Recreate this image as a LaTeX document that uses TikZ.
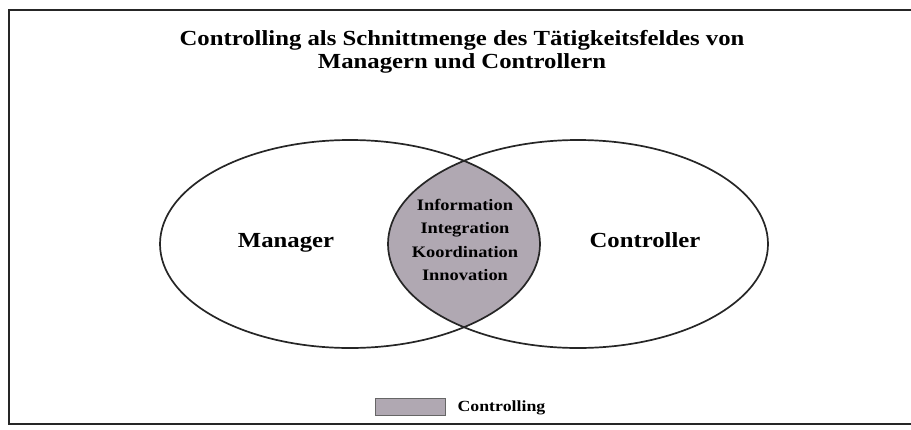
\documentclass[tikz,border=0pt]{standalone}
\usepackage{fontspec}
\setmainfont{Liberation Serif}
\newfontfamily\wideserif[FakeStretch=1.15]{Liberation Serif}
\begin{document}
\begin{tikzpicture}[x=1pt,y=-1pt,
  outline/.style={draw=black!85,line width=1.7pt},
  lensfill/.style={fill={rgb,255:red,176;green,168;blue,178}},
  heading/.style={font=\wideserif\bfseries\fontsize{21.5}{23}\selectfont,align=center},
  setlabel/.style={font=\wideserif\bfseries\fontsize{21.5}{24}\selectfont},
  lenstext/.style={font=\wideserif\bfseries\fontsize{16}{23.5}\selectfont,align=center},
  legendtext/.style={font=\wideserif\bfseries\fontsize{15.5}{17}\selectfont,anchor=west}]
\useasboundingbox (0,0) rectangle (911,429);
% frame (right side runs off the page)
\draw[line width=2pt,black!85] (911,10) -- (9,10) -- (9,424) -- (911,424);
% title
\node[heading] (title) at (462,52) {Controlling als Schnittmenge des Tätigkeitsfeldes von\\Managern und Controllern};
% shared area of the two sets
\begin{scope}
  \clip (350,244) ellipse [x radius=190,y radius=104];
  \fill[lensfill] (578,244) ellipse [x radius=190,y radius=104];
\end{scope}
\draw[outline] (350,244) ellipse [x radius=190,y radius=104];
\draw[outline] (578,244) ellipse [x radius=190,y radius=104];
% labels
\node[setlabel] (manager) at (286,243) {Manager};
\node[setlabel] (controller) at (645,240) {Controller};
\node[lenstext] (tasks) at (465,240) {Information\\Integration\\Koordination\\Innovation};
% legend
\node[lensfill,draw=black!60,line width=1pt,minimum width=70pt,minimum height=17pt,inner sep=0pt] (key) at (410,406.5) {};
\node[legendtext] (keytext) at (454,408) {Controlling};
\end{tikzpicture}
\end{document}
